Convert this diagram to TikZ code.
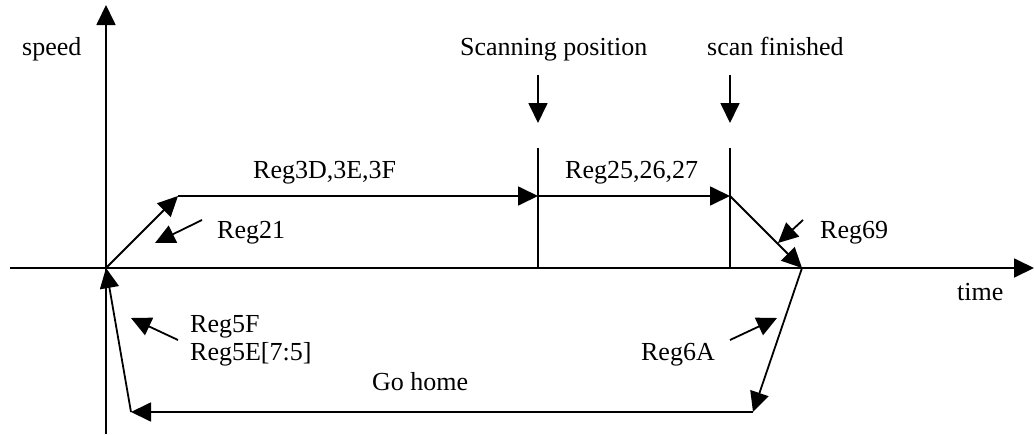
\documentclass[tikz,border=0pt]{standalone}
\usepackage{fontspec}
\setmainfont{Liberation Serif}
\usetikzlibrary{arrows.meta}
\begin{document}
\begin{tikzpicture}[x=1pt,y=-1pt,
  ln/.style={line width=1.8pt},
  arr/.style={ln,-{Triangle[length=20pt,width=19pt]}},
  lbl/.style={inner sep=0pt,anchor=base west,font=\fontsize{26}{28}\selectfont}]
\useasboundingbox (0,0) rectangle (1034,434);
% points
\coordinate (O) at (106,268);
\coordinate (A) at (178,196);
\coordinate (B) at (538,196);
\coordinate (C) at (730,196);
\coordinate (D) at (802,268);
\coordinate (E) at (753,412);
\coordinate (F) at (131,412);
\coordinate (ybot) at (106,434);
\coordinate (ytop) at (106,5);
\coordinate (xl) at (10,268);
\coordinate (xr) at (1034,268);
\coordinate (Bt) at (538,148);
\coordinate (Bb) at (538,268);
\coordinate (Ct) at (730,148);
\coordinate (Cb) at (730,268);
\coordinate (s1a) at (538,75);
\coordinate (s1b) at (538,123);
\coordinate (s2a) at (730,75);
\coordinate (s2b) at (730,123);
\coordinate (p21a) at (202,220);
\coordinate (p21b) at (155,243);
\coordinate (p69a) at (803,220);
\coordinate (p69b) at (778,243);
\coordinate (p5Fa) at (178,340);
\coordinate (p5Fb) at (131,318);
\coordinate (p6Aa) at (730,340);
\coordinate (p6Ab) at (777,318);
% axes
\draw[arr] (ybot) -- (ytop);
\draw[arr] (xl) -- (xr);
% vertical markers
\draw[ln] (Bt) -- (Bb);
\draw[ln] (Ct) -- (Cb);
\draw[arr] (s1a) -- (s1b);
\draw[arr] (s2a) -- (s2b);
% profile
\draw[arr] (O) -- (A);
\draw[arr] (A) -- (B);
\draw[arr] (B) -- (C);
\draw[arr] (C) -- (D);
\draw[arr] (D) -- (E);
\draw[arr] (E) -- (F);
\draw[arr] (F) -- (O);
% pointers
\draw[arr] (p21a) -- (p21b);
\draw[arr] (p69a) -- (p69b);
\draw[arr] (p5Fa) -- (p5Fb);
\draw[arr] (p6Aa) -- (p6Ab);
% labels
\node[lbl] (speed) at (22,55) {speed};
\node[lbl] (scanpos) at (460,55) {Scanning position};
\node[lbl] (scanfin) at (707,55) {scan finished};
\node[lbl] (r3d) at (253,178) {Reg3D,3E,3F};
\node[lbl] (r25) at (565,178) {Reg25,26,27};
\node[lbl] (r21) at (217,238) {Reg21};
\node[lbl] (r69) at (820,238) {Reg69};
\node[lbl] (time) at (957,300) {time};
\node[lbl] (r5f) at (190,332) {Reg5F};
\node[lbl] (r5e) at (190,360) {Reg5E[7:5]};
\node[lbl,anchor=base east] (r6a) at (715,360) {Reg6A};
\node[lbl] (home) at (372,390) {Go home};
\end{tikzpicture}
\end{document}
